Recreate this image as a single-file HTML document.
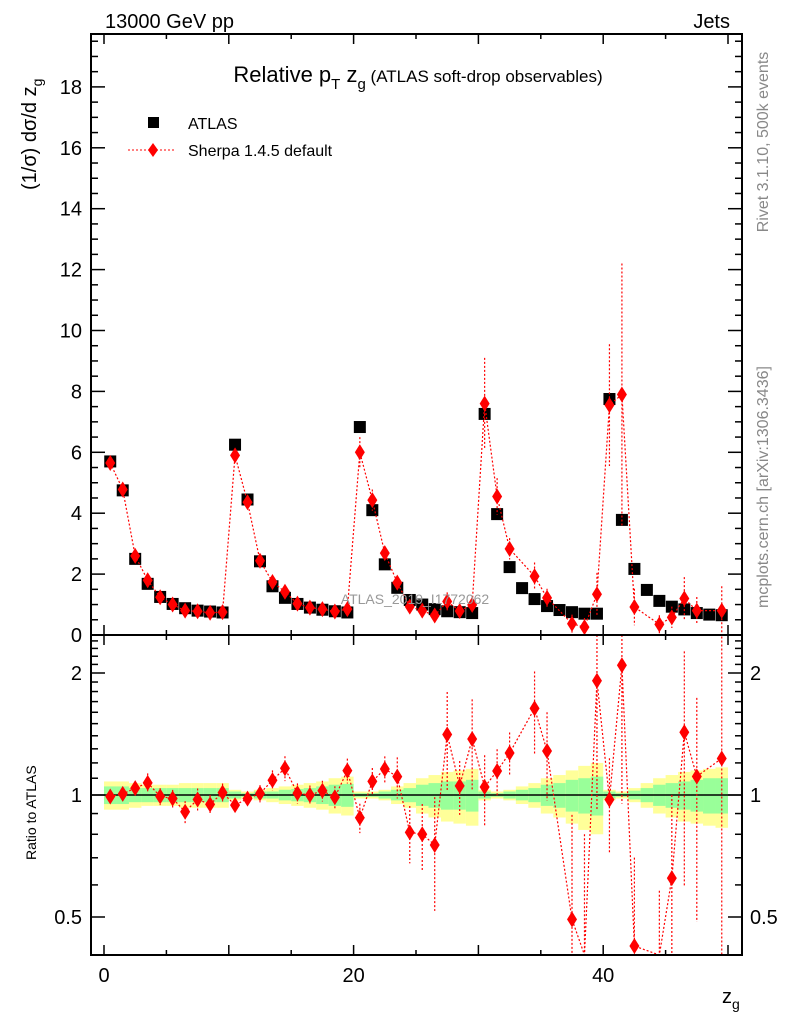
<!DOCTYPE html>
<html><head><meta charset="utf-8"><style>
html,body{margin:0;padding:0;background:#fff;}
svg{display:block;font-family:"Liberation Sans",sans-serif;}
</style></head><body>
<svg id="chart" width="786" height="1024" viewBox="0 0 786 1024" xmlns="http://www.w3.org/2000/svg">
<g id="bands"></g>
<g id="marks"></g>
<g id="axes"></g>
<text x="105" y="28" font-size="20">13000 GeV pp</text>
<text x="730" y="28" font-size="20" text-anchor="end">Jets</text>
<text x="418" y="82" font-size="22" text-anchor="middle">Relative p<tspan font-size="15" dy="7">T</tspan><tspan dy="-7"> z</tspan><tspan font-size="15" dy="7">g</tspan><tspan dy="-7" font-size="17"> (ATLAS soft-drop observables)</tspan></text>
<g>
<rect x="148" y="117" width="11" height="11" fill="#000"/>
<text x="188" y="129" font-size="16">ATLAS</text>
<line x1="128" y1="150" x2="175" y2="150" stroke="red" stroke-dasharray="2,2"/>
<polygon points="153,143 158,150 153,157 148,150" fill="red"/>
<text x="188" y="156" font-size="16">Sherpa 1.4.5 default</text>
</g>
<text x="415" y="604" font-size="14" fill="#999" text-anchor="middle">ATLAS_2019_I1772062</text>
<text transform="translate(768,142) rotate(-90)" font-size="16" fill="#888" text-anchor="middle">Rivet 3.1.10,  500k events</text>
<text transform="translate(768,487) rotate(-90)" font-size="16" fill="#888" text-anchor="middle">mcplots.cern.ch [arXiv:1306.3436]</text>
<text transform="translate(36,190) rotate(-90)" font-size="20" text-anchor="start">(1/σ) dσ/d z<tspan font-size="14" dy="6">g</tspan></text>
<text transform="translate(36,860) rotate(-90)" font-size="14" text-anchor="start">Ratio to ATLAS</text>
<text x="722" y="1003" font-size="20">z<tspan font-size="14" dy="6">g</tspan></text>
</svg>
<script>
const binCenters=[0.5,1.5,2.5,3.5,4.5,5.5,6.5,7.5,8.5,9.5,10.5,11.5,12.5,13.5,14.5,15.5,16.5,17.5,18.5,19.5,20.5,21.5,22.5,23.5,24.5,25.5,26.5,27.5,28.5,29.5,30.5,31.5,32.5,33.5,34.5,35.5,36.5,37.5,38.5,39.5,40.5,41.5,42.5,43.5,44.5,45.5,46.5,47.5,48.5,49.5];
const atlasValues=[5.7,4.75,2.5,1.68,1.25,1.02,0.88,0.8,0.77,0.74, 6.25,4.45,2.42,1.6,1.22,1.02,0.9,0.83,0.78,0.74, 6.83,4.1,2.32,1.55,1.15,1.0,0.85,0.78,0.75,0.72, 7.26,3.97,2.23,1.54,1.18,0.95,0.82,0.75,0.7,0.7, 7.75,3.78,2.17,1.48,1.12,0.93,0.84,0.72,0.67,0.65];
const sherpaValues=[5.65,4.78,2.6,1.8,1.24,1.0,0.8,0.78,0.73,0.75, 5.9,4.36,2.44,1.74,1.42,1.03,0.9,0.85,0.77,0.85, 6.0,4.43,2.69,1.72,0.93,0.8,0.64,1.1,0.79,0.99, 7.6,4.55,2.83,null,1.93,1.22,null,0.37,0.26,1.34, 7.55,7.9,0.92,null,0.35,0.58,1.2,0.8,null,0.8];
const sherpaErrors=[0.15,0.1,0.1,0.1,0.06,0.05,0.05,0.05,0.04,0.04, 0.15,0.15,0.12,0.1,0.1,0.06,0.05,0.05,0.05,0.06, 0.5,0.35,0.2,0.2,0.15,0.15,0.2,0.3,0.12,0.25, 1.5,0.6,0.35,0,0.45,0.3,0,0.3,0.3,0.7, 2.0,4.3,0.6,0,0.3,0.35,0.7,0.45,0,0.8];
const totalBand=[0.08,0.08,0.07,0.06,0.06,0.06,0.07,0.07,0.07,0.07, 0.03,0.02,0.03,0.04,0.05,0.06,0.07,0.08,0.1,0.11, 0.02,0.02,0.03,0.05,0.07,0.1,0.12,0.14,0.15,0.16, 0.03,0.02,0.03,0.05,0.07,0.1,0.12,0.15,0.18,0.2, 0.03,0.02,0.04,0.07,0.1,0.12,0.14,0.15,0.16,0.17];
const statBand=[0.05,0.05,0.04,0.04,0.04,0.04,0.04,0.04,0.04,0.04, 0.02,0.01,0.02,0.02,0.03,0.035,0.04,0.05,0.06,0.065, 0.01,0.01,0.02,0.03,0.04,0.06,0.07,0.08,0.08,0.09, 0.02,0.01,0.02,0.03,0.04,0.06,0.07,0.09,0.1,0.11, 0.02,0.01,0.025,0.04,0.06,0.07,0.08,0.09,0.1,0.1];
const mainYTicks=[0,2,4,6,8,10,12,14,16,18];
const ratioTicks=[0.5,1,2];
const xTicks=[0,20,40];

const NS="http://www.w3.org/2000/svg";
const L=91,R=742,T=34,M=635,B=955;
const x=v=>104+v*12.48;
const y=v=>M-v*30.45;
const ry=r=>795-Math.log2(r)*122;
const clampY=(p,a,b)=>Math.max(a,Math.min(b,p));
function mk(tag,attrs,parent){const e=document.createElementNS(NS,tag);for(const k in attrs)e.setAttribute(k,attrs[k]);parent.appendChild(e);return e;}
const bands=document.getElementById('bands'),marks=document.getElementById('marks'),axes=document.getElementById('axes');

binCenters.forEach((c,i)=>{
  const x0=x(c-0.5),w=x(c+0.5)-x0;
  const yb=mk('rect',{x:x0,y:ry(1+totalBand[i]),width:w,height:ry(1-totalBand[i])-ry(1+totalBand[i]),fill:'#ffff99'},bands);
  
  
  const gb=mk('rect',{x:x0,y:ry(1+statBand[i]),width:w,height:ry(1-statBand[i])-ry(1+statBand[i]),fill:'#99ff99'},bands);
  
  
});
const one=mk('line',{x1:L,x2:R,y1:ry(1),y2:ry(1),stroke:'#000','stroke-width':1.5},bands);



binCenters.forEach((c,i)=>{
  const s=mk('rect',{x:x(c)-6,y:y(atlasValues[i])-6,width:12,height:12,fill:'#000'},marks);
  
  
});
let pts=[];
binCenters.forEach((c,i)=>{ if(sherpaValues[i]!==null) pts.push([x(c),y(sherpaValues[i]),i]); });
const pl=mk('polyline',{points:pts.map(p=>p[0]+','+p[1]).join(' '),fill:'none',stroke:'red','stroke-dasharray':'2,2','stroke-width':1.2},marks);


pts.forEach(p=>{
  const i=p[2],v=sherpaValues[i],e=sherpaErrors[i];
  const el=mk('line',{x1:p[0],x2:p[0],y1:clampY(y(v+e),T,M),y2:clampY(y(Math.max(v-e,0)),T,M),stroke:'red','stroke-dasharray':'2,2','stroke-width':1.2},marks);
  
  
  const d=mk('polygon',{points:`${p[0]},${p[1]-8} ${p[0]+5},${p[1]} ${p[0]},${p[1]+8} ${p[0]-5},${p[1]}`,fill:'red'},marks);
  
  
});
let rpts=[];
binCenters.forEach((c,i)=>{ if(sherpaValues[i]!==null) rpts.push([x(c),sherpaValues[i]/atlasValues[i],i]); });
const rp=mk('polyline',{points:rpts.map(p=>p[0]+','+clampY(ry(p[1]),M,B)).join(' '),fill:'none',stroke:'red','stroke-dasharray':'2,2','stroke-width':1.2},marks);


rpts.forEach(p=>{
  const i=p[2],r=p[1],e=sherpaErrors[i]/atlasValues[i];
  const lo=r-e>0.01?ry(r-e):B;
  const el=mk('line',{x1:p[0],x2:p[0],y1:clampY(ry(r+e),M,B),y2:clampY(lo,M,B),stroke:'red','stroke-dasharray':'2,2','stroke-width':1.2},marks);
  
  
  const py=ry(r);
  if(py>=M&&py<=B+8){
    const cy=Math.min(py,B-8);
    const d=mk('polygon',{points:`${p[0]},${cy-8} ${p[0]+5},${cy} ${p[0]},${cy+8} ${p[0]-5},${cy}`,fill:'red'},marks);
    
    
  }
});

[[T,M],[M,B]].forEach(([a,b])=>{
  const f=mk('rect',{x:L,y:a,width:R-L,height:b-a,fill:'none',stroke:'#000','stroke-width':2},axes);
  
  
});
for(let v=0;v<=50;v+=5){
  const len=v%10===0?10:5;
  [[M,-1],[B,-1],[T,1],[M,1]].forEach(([yy,dir])=>{
    mk('line',{x1:x(v),x2:x(v),y1:yy,y2:yy+dir*len,stroke:'#000','stroke-width':1.5},axes);
  });
}
xTicks.forEach(v=>{
  const t=mk('text',{x:x(v),y:982,'font-size':20,'text-anchor':'middle'},axes);
  t.textContent=v;
  
  
});
for(let v=0;v<=19.5;v+=0.5){
  const len=(v%2===0)?14:7;
  const yy=y(v); if(yy<T) continue;
  mk('line',{x1:L,x2:L+len,y1:yy,y2:yy,stroke:'#000','stroke-width':1.5},axes);
  mk('line',{x1:R,x2:R-len,y1:yy,y2:yy,stroke:'#000','stroke-width':1.5},axes);
}
mainYTicks.forEach(v=>{
  const t=mk('text',{x:82,y:y(v)+7,'font-size':20,'text-anchor':'end'},axes);
  t.textContent=v;
  
  
});
const rminor=[0.5,0.6,0.7,0.8,0.9,1,1.1,1.2,1.3,1.4,1.5,1.6,1.7,1.8,1.9,2,2.1,2.2,2.3,2.4];
rminor.forEach(v=>{
  const len=ratioTicks.includes(v)?14:7, yy=ry(v);
  mk('line',{x1:L,x2:L+len,y1:yy,y2:yy,stroke:'#000','stroke-width':1.5},axes);
  mk('line',{x1:R,x2:R-len,y1:yy,y2:yy,stroke:'#000','stroke-width':1.5},axes);
});
ratioTicks.forEach(v=>{
  const t=mk('text',{x:82,y:ry(v)+7,'font-size':20,'text-anchor':'end'},axes);
  t.textContent=v;
  
  
  const t2=mk('text',{x:750,y:ry(v)+7,'font-size':20,'text-anchor':'start'},axes);
  t2.textContent=v;
  
  
});
</script>
</body></html>
